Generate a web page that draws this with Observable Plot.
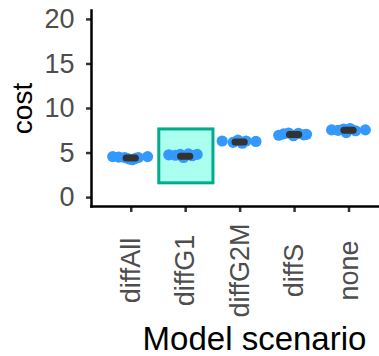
<!DOCTYPE html>
<html>
<head>
<meta charset="utf-8">
<script src="https://cdn.jsdelivr.net/npm/d3@7"></script>
<script src="https://cdn.jsdelivr.net/npm/@observablehq/plot@0.6"></script>
<style>
  html, body { margin: 0; padding: 0; background: #fff; }
  svg { font-family: "Liberation Sans", Arial, sans-serif; }
</style>
</head>
<body>
<div id="chart"></div>
<script>
// categories and tick labels
const categories = ["diffAll", "diffG1", "diffG2M", "diffS", "none"];
const yTicks = [0, 5, 10, 15, 20];

// individual runs (category index, horizontal jitter, cost)
const pointGroup  = [0,0,0,0,0,0,0,0, 1,1,1,1,1,1,1, 2,2,2,2,2,2, 3,3,3,3,3,3,3, 4,4,4,4,4,4,4];
const pointJitter = [-0.34,-0.23,-0.12,-0.05,0.02,0.08,0.13,0.30,
                     -0.31,-0.19,-0.10,-0.04,0.05,0.12,0.21,
                     -0.33,-0.13,-0.04,0.04,0.11,0.29,
                     -0.29,-0.20,-0.11,-0.02,0.07,0.17,0.22,
                     -0.32,-0.20,-0.10,-0.05,0.02,0.12,0.30];
const pointCost   = [4.6,4.55,4.5,4.35,4.25,4.4,4.5,4.6,
                     4.8,4.75,4.85,4.5,4.9,4.7,4.85,
                     6.35,6.2,6.45,6.1,6.35,6.3,
                     7.0,7.15,7.25,6.95,7.2,7.05,7.1,
                     7.6,7.55,7.7,7.3,7.75,7.5,7.6];

// summary (mean) per category
const meanCost = [4.45, 4.65, 6.25, 7.08, 7.55];

// highlighted scenario box
const highlightIndex = 1;
const highlightLow = 1.6;
const highlightHigh = 7.65;

const points = pointGroup.map((g, i) => ({x: g + pointJitter[i], cost: pointCost[i]}));
const means = meanCost.map((m, i) => ({i, cost: m}));
const labels = categories.map((c, i) => ({i, c}));

const chart = Plot.plot({
  width: 379,
  height: 356,
  marginLeft: 91,
  marginRight: 0,
  marginTop: 10,
  marginBottom: 150,
  style: {background: "#fff", overflow: "visible"},
  x: {domain: [-0.73, 4.56], axis: null},
  y: {domain: [-1, 21], axis: null},
  marks: [
    Plot.rect([0], {
      x1: highlightIndex - 0.485, x2: highlightIndex + 0.51,
      y1: highlightLow, y2: highlightHigh,
      fill: "#aaffee", stroke: "#00ad8a", strokeWidth: 3
    }),
    Plot.dot(points, {x: "x", y: "cost", r: 5.6, fill: "#3399ff", stroke: "none"}),
    Plot.ruleY(means, {
      x1: d => d.i - 0.085, x2: d => d.i + 0.085, y: "cost",
      stroke: "#333333", strokeWidth: 7, strokeLinecap: "round"
    }),
    Plot.axisY({
      ticks: yTicks, tickSize: 5, tickPadding: 12, fontSize: 27,
      stroke: "#333333", strokeWidth: 2.5, color: "#4d4d4d", label: null
    }),
    Plot.axisX({
      ticks: [0, 1, 2, 3, 4], tickSize: 6, tickFormat: () => "",
      stroke: "#333333", strokeWidth: 2.5, label: null
    }),
    Plot.frame({anchor: "left", stroke: "#000", strokeWidth: 2.5}),
    Plot.frame({anchor: "bottom", stroke: "#000", strokeWidth: 2.5}),
    Plot.text(labels, {
      x: "i", text: "c", frameAnchor: "bottom", rotate: -90,
      textAnchor: "middle", lineAnchor: "middle", dy: 64,
      fontSize: 27, fill: "#4d4d4d"
    }),
    Plot.text(["cost"], {
      frameAnchor: "left", rotate: -90, textAnchor: "middle",
      lineAnchor: "bottom", dx: -60, fontSize: 28, fill: "#000"
    }),
    Plot.text(["Model scenario"], {
      frameAnchor: "bottom", textAnchor: "middle", lineAnchor: "bottom",
      dx: 19, dy: 143, fontSize: 33, fill: "#000"
    })
  ]
});
document.getElementById("chart").appendChild(chart);
</script>
</body>
</html>
